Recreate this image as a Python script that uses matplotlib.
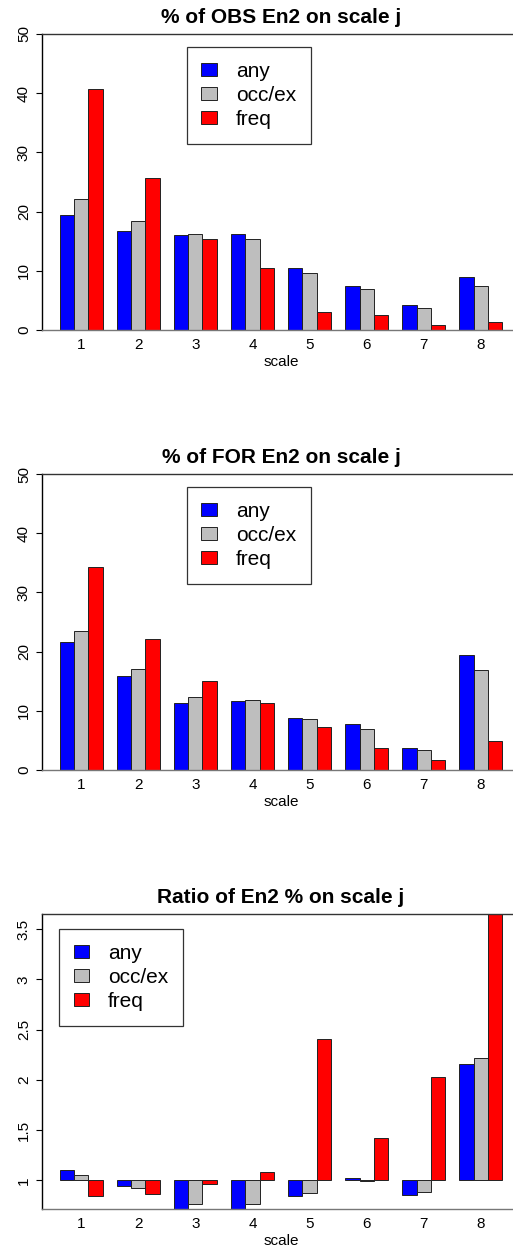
import numpy as np
import matplotlib
matplotlib.use("Agg")
import matplotlib.pyplot as plt

plt.rcParams["font.family"] = ["Liberation Sans", "DejaVu Sans"]

scales = ["1", "2", "3", "4", "5", "6", "7", "8"]
series = ["any", "occ/ex", "freq"]
colors = ["#0000FF", "#BEBEBE", "#FF0000"]

# % of OBS En2 on scale j
obs_any = [19.4, 16.7, 16.1, 16.2, 10.5, 7.5, 4.3, 9.0]
obs_occ = [22.1, 18.4, 16.2, 15.3, 9.7, 6.9, 3.7, 7.5]
obs_freq = [40.7, 25.6, 15.4, 10.5, 3.0, 2.5, 0.85, 1.3]

# % of FOR En2 on scale j
for_any = [21.6, 15.8, 11.4, 11.6, 8.8, 7.7, 3.7, 19.5]
for_occ = [23.4, 17.0, 12.4, 11.8, 8.6, 6.9, 3.3, 16.9]
for_freq = [34.3, 22.1, 15.0, 11.4, 7.3, 3.7, 1.7, 4.9]

# ratio FOR / OBS
rat_any = [1.10, 0.94, 0.70, 0.70, 0.84, 1.02, 0.85, 2.155]
rat_occ = [1.055, 0.92, 0.76, 0.765, 0.875, 0.993, 0.88, 2.22]
rat_freq = [0.84, 0.86, 0.967, 1.08, 2.41, 1.42, 2.03, 3.77]

W, H = 513, 1249
fig = plt.figure(figsize=(W / 100, H / 100), dpi=100)


def panel(rect, data, title, ylim, yticks, yticklabels, base, leg_anchor):
    ax = fig.add_axes(rect)
    n = len(scales)
    groups = np.arange(n)
    for i, vals in enumerate(data):
        left = 4 * groups + 1 + i
        ax.bar(left + 0.5, np.array(vals) - base, width=1.0, bottom=base,
               color=colors[i], edgecolor="#222222", linewidth=0.7,
               label=series[i])
    ax.set_xlim(-0.24, 33.24)
    ax.set_ylim(*ylim)
    ax.set_xticks(4 * groups + 2.5)
    ax.set_xticklabels(scales, fontsize=11)
    ax.set_yticks(yticks)
    ax.set_yticklabels(yticklabels, fontsize=11, rotation=90, va="center")
    ax.tick_params(axis="x", length=0, pad=6)
    ax.tick_params(axis="y", length=4, width=0.8, pad=4)
    ax.set_xlabel("scale", fontsize=11, labelpad=2)
    ax.set_title(title, fontsize=15, fontweight="bold", pad=8)
    ax.spines["right"].set_visible(False)
    ax.spines["left"].set_color("black")
    ax.spines["top"].set_color("#333333")
    ax.spines["bottom"].set_color("#777777")
    for s in ["left", "top", "bottom"]:
        ax.spines[s].set_linewidth(1.0)
    leg = ax.legend(loc="upper left", bbox_to_anchor=leg_anchor, fontsize=15,
                    frameon=True, fancybox=False, edgecolor="black",
                    handlelength=0.75, handleheight=0.6, handletextpad=0.9,
                    labelspacing=0.25, borderpad=0.7, borderaxespad=0)
    leg.get_frame().set_linewidth(0.9)
    return ax


panel([42 / W, 1 - 330 / H, 478 / W, 296 / H],
      [obs_any, obs_occ, obs_freq], "% of OBS En2 on scale j",
      (0, 50), [0, 10, 20, 30, 40, 50], ["0", "10", "20", "30", "40", "50"],
      0, (0.303, 0.956))

panel([42 / W, 1 - 770 / H, 478 / W, 296 / H],
      [for_any, for_occ, for_freq], "% of FOR En2 on scale j",
      (0, 50), [0, 10, 20, 30, 40, 50], ["0", "10", "20", "30", "40", "50"],
      0, (0.303, 0.956))

panel([42 / W, 1 - 1209 / H, 478 / W, 295 / H],
      [rat_any, rat_occ, rat_freq], "Ratio of En2 % on scale j",
      (0.714, 3.652), [1, 1.5, 2, 2.5, 3, 3.5], ["1", "1.5", "2", "2.5", "3", "3.5"],
      1, (0.036, 0.949))

fig.savefig("out.png", dpi=100)
